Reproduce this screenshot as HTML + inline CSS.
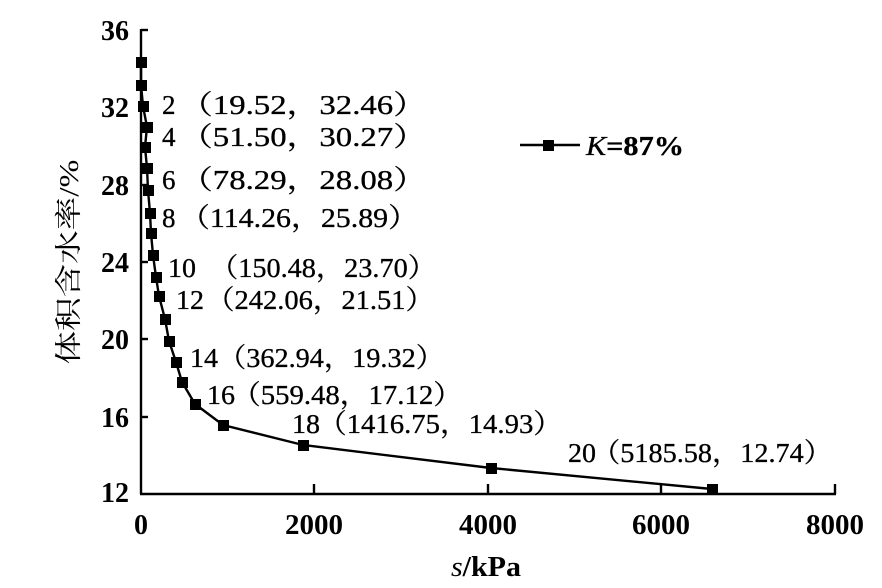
<!DOCTYPE html>
<html><head><meta charset="utf-8"><style>
html,body{margin:0;padding:0;background:#fff;}
svg{display:block;}
text{font-family:"Liberation Serif","Noto Serif CJK SC",serif;fill:#000;}
.t{font-size:28px;}
.l{font-size:27px;stroke:#000;stroke-width:0.3px;}
</style></head><body>
<svg width="882" height="588" viewBox="0 0 882 588">
<g stroke="#000" stroke-width="2.4" fill="none">
<line x1="141" y1="29" x2="141" y2="494"/>
<line x1="140" y1="494" x2="836" y2="494"/>
<line x1="141" y1="30" x2="148" y2="30"/>
<line x1="141" y1="107" x2="148" y2="107"/>
<line x1="141" y1="185" x2="148" y2="185"/>
<line x1="141" y1="262" x2="148" y2="262"/>
<line x1="141" y1="339" x2="148" y2="339"/>
<line x1="141" y1="417" x2="148" y2="417"/>
<line x1="314" y1="494" x2="314" y2="484"/>
<line x1="488" y1="494" x2="488" y2="484"/>
<line x1="661" y1="494" x2="661" y2="484"/>
<line x1="835" y1="494" x2="835" y2="484"/>
<polyline points="141,62 141,85 143,106 147,127 145,147 147,168 148,190 150,213 151,233 153,255 156,277 159,296 165,319 169,341 176,362 182,382 195,404 223,425 303,445 491,468 712,489"/>
<line x1="520" y1="145" x2="580" y2="145"/>
</g>
<g fill="#000">
<rect x="136" y="57" width="11" height="11"/><rect x="136" y="80" width="11" height="11"/>
<rect x="138" y="101" width="11" height="11"/><rect x="142" y="122" width="11" height="11"/>
<rect x="140" y="142" width="11" height="11"/><rect x="142" y="163" width="11" height="11"/>
<rect x="143" y="185" width="11" height="11"/><rect x="145" y="208" width="11" height="11"/>
<rect x="146" y="228" width="11" height="11"/><rect x="148" y="250" width="11" height="11"/>
<rect x="151" y="272" width="11" height="11"/><rect x="154" y="291" width="11" height="11"/>
<rect x="160" y="314" width="11" height="11"/><rect x="164" y="336" width="11" height="11"/>
<rect x="171" y="357" width="11" height="11"/><rect x="177" y="377" width="11" height="11"/>
<rect x="190" y="399" width="11" height="11"/><rect x="218" y="420" width="11" height="11"/>
<rect x="298" y="440" width="11" height="11"/><rect x="486" y="463" width="11" height="11"/>
<rect x="707" y="484" width="11" height="11"/>
<rect x="543" y="140" width="11" height="11"/>
</g>
<g class="t" text-anchor="end" font-weight="bold">
<text x="129" y="40" textLength="28" lengthAdjust="spacingAndGlyphs">36</text>
<text x="129" y="117" textLength="28" lengthAdjust="spacingAndGlyphs">32</text>
<text x="129" y="195" textLength="28" lengthAdjust="spacingAndGlyphs">28</text>
<text x="129" y="272" textLength="28" lengthAdjust="spacingAndGlyphs">24</text>
<text x="129" y="349" textLength="28" lengthAdjust="spacingAndGlyphs">20</text>
<text x="129" y="427" textLength="28" lengthAdjust="spacingAndGlyphs">16</text>
<text x="129" y="502" textLength="28" lengthAdjust="spacingAndGlyphs">12</text>
</g>
<g class="t" font-weight="bold">
<text x="134" y="534">0</text>
<text x="285" y="534" textLength="58" lengthAdjust="spacingAndGlyphs">2000</text>
<text x="459" y="534" textLength="58" lengthAdjust="spacingAndGlyphs">4000</text>
<text x="632" y="534" textLength="58" lengthAdjust="spacingAndGlyphs">6000</text>
<text x="806" y="534" textLength="58" lengthAdjust="spacingAndGlyphs">8000</text>
<text x="451" y="576" textLength="70" lengthAdjust="spacingAndGlyphs"><tspan font-style="italic" font-weight="normal">s</tspan>/kPa</text>
</g>
<text x="78" y="262" font-size="27" text-anchor="middle" textLength="205" lengthAdjust="spacingAndGlyphs" transform="rotate(-90 78 262)">体积含水率/%</text>
<g class="l">
<text x="162" y="114">2</text><text x="180" y="114" textLength="246" lengthAdjust="spacingAndGlyphs">（19.52，32.46）</text>
<text x="162" y="146">4</text><text x="180" y="146" textLength="246" lengthAdjust="spacingAndGlyphs">（51.50，30.27）</text>
<text x="162" y="189">6</text><text x="180" y="189" textLength="246" lengthAdjust="spacingAndGlyphs">（78.29，28.08）</text>
<text x="162" y="227">8</text><text x="180" y="227" textLength="238" lengthAdjust="spacingAndGlyphs">（114.26，25.89）</text>
<text x="168" y="277" textLength="28" lengthAdjust="spacingAndGlyphs">10</text><text x="210" y="277" textLength="226" lengthAdjust="spacingAndGlyphs">（150.48，23.70）</text>
<text x="176" y="309" textLength="28" lengthAdjust="spacingAndGlyphs">12</text><text x="206" y="309" textLength="228" lengthAdjust="spacingAndGlyphs">（242.06，21.51）</text>
<text x="190" y="367" textLength="28" lengthAdjust="spacingAndGlyphs">14</text><text x="218" y="367" textLength="226" lengthAdjust="spacingAndGlyphs">（362.94，19.32）</text>
<text x="207" y="404" textLength="28" lengthAdjust="spacingAndGlyphs">16</text><text x="232" y="404" textLength="230" lengthAdjust="spacingAndGlyphs">（559.48，17.12）</text>
<text x="292" y="433" textLength="28" lengthAdjust="spacingAndGlyphs">18</text><text x="318" y="433" textLength="244" lengthAdjust="spacingAndGlyphs">（1416.75，14.93）</text>
<text x="568" y="462" textLength="28" lengthAdjust="spacingAndGlyphs">20</text><text x="592" y="462" textLength="240" lengthAdjust="spacingAndGlyphs">（5185.58，12.74）</text>
<text x="586" y="155" textLength="98" lengthAdjust="spacingAndGlyphs"><tspan font-style="italic">K</tspan><tspan font-weight="bold">=87%</tspan></text>
</g>
</svg>
</body></html>
